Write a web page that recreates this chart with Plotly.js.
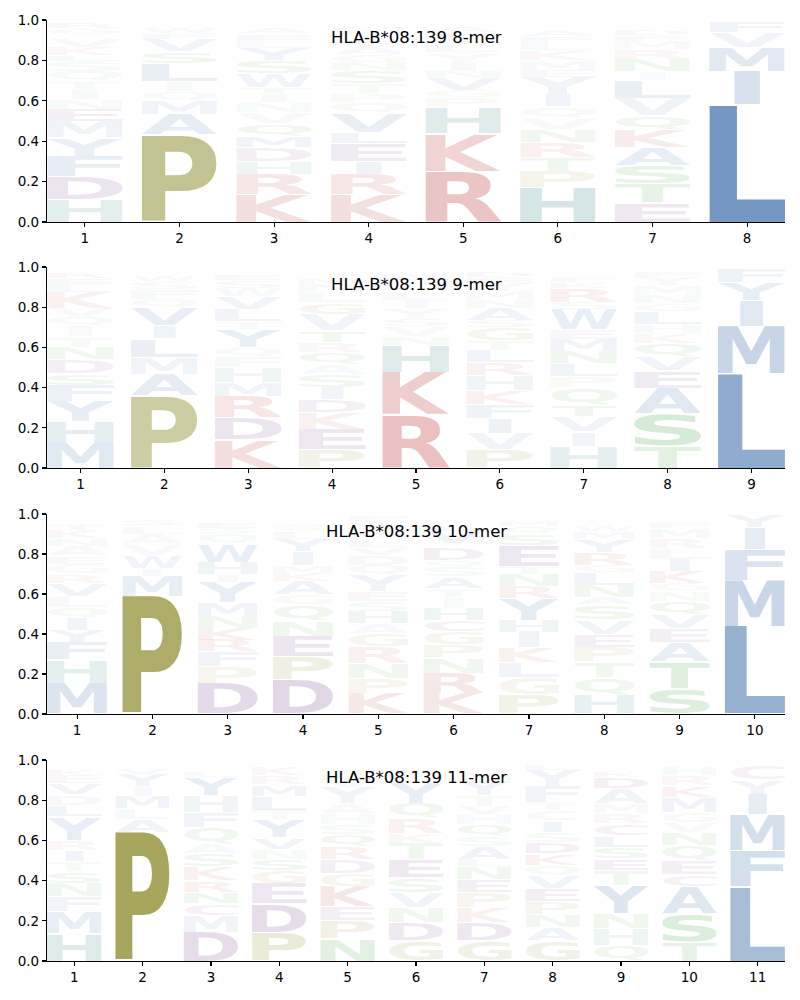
<!DOCTYPE html>
<html><head><meta charset="utf-8">
<script src="https://cdn.plot.ly/plotly-3.0.1.min.js"></script>
<style>body{margin:0;background:#fff}#chart{width:800px;height:1000px}</style>
</head><body><div id="chart"></div>
<script>
// ---------- DATA ----------
const titles = ["HLA-B*08:139 8-mer", "HLA-B*08:139 9-mer", "HLA-B*08:139 10-mer", "HLA-B*08:139 11-mer"];

const ticks8 = [1,2,3,4,5,6,7,8];
const letters8 = ["HDFYMENITQSLKVWGR","PAMQILSVFWE","KRHDMQVNITWSYLEAG","KRIELVQPTSNGAFYMW",
  "RKHPGVNIYLSEAM","HPTRNVQIYEMKLFAS","ETSAKQVLINRMFDY","LIMVF"];
const heights8 = [
  [.114,.112,.10,.09,.08,.06,.05,.05,.04,.05,.05,.03,.04,.04,.02,.03,.03],
  [.43,.10,.07,.045,.05,.09,.06,.06,.03,.03,.02],
  [.137,.10,.065,.067,.057,.06,.055,.05,.045,.03,.07,.065,.06,.04,.03,.03,.02],
  [.137,.10,.065,.085,.057,.095,.05,.045,.05,.065,.04,.04,.04,.03,.04,.03,.02],
  [.252,.185,.13,.05,.035,.06,.035,.04,.05,.04,.03,.03,.03,.02],
  [.17,.08,.07,.075,.065,.055,.055,.06,.085,.035,.05,.05,.04,.03,.03,.02],
  [.095,.095,.09,.09,.085,.07,.085,.09,.045,.06,.05,.04,.03,.03,.02],
  [.58,.165,.12,.075,.057]
];

const ticks9 = [1,2,3,4,5,6,7,8,9];
const letters9 = ["MHYFSDNTIQVKLERA","PAMLIVQFSWE","KDRMHFQYTLVWSEA","PEKDISAQRTVGLNMF",
  "RKHNVSYILQMEAF","PVIFKHRLTGSANMYED","HIVTQPLNMEWSRKFY","TSAEVQKHLGNMYF","LMIYF"];
const heights9 = [
  [.124,.108,.10,.08,.06,.07,.06,.05,.055,.045,.04,.08,.04,.03,.03,.02],
  [.357,.11,.085,.09,.065,.09,.04,.05,.04,.03,.02],
  [.14,.11,.105,.07,.075,.055,.045,.09,.04,.06,.065,.04,.04,.03,.02],
  [.09,.10,.085,.065,.06,.065,.05,.06,.05,.06,.08,.06,.05,.04,.03,.02],
  [.265,.21,.135,.045,.05,.04,.05,.04,.04,.03,.03,.03,.02,.01],
  [.09,.08,.075,.07,.07,.075,.065,.06,.05,.065,.035,.06,.045,.04,.04,.03,.03],
  [.108,.072,.075,.06,.085,.055,.065,.06,.06,.05,.10,.035,.07,.03,.03,.02],
  [.108,.16,.13,.085,.07,.065,.05,.045,.065,.04,.04,.05,.04,.03],
  [.47,.235,.13,.09,.07]
];

const ticks10 = [1,2,3,4,5,6,7,8,9,10];
const letters10 = ["MHFYIQLVRGEANKTS","PMIWVALSF","DPFRKNMYIHWQSEL","DPENQGAKMIYLST",
  "KPNRGAHSEYQDVLMTIF","KRNPGCHITASQDEVLF","PGLKIHYRNTESQMV","HQTPEVSANLGRYMWF",
  "STAEVQNGKILRMFY","LMFIY"];
const heights10 = [
  [.153,.117,.09,.06,.06,.055,.055,.065,.045,.05,.04,.05,.04,.04,.03,.02],
  [.59,.10,.04,.065,.055,.05,.04,.03,.02],
  [.153,.084,.073,.06,.06,.06,.07,.10,.04,.06,.09,.05,.03,.03,.02],
  [.17,.115,.105,.075,.08,.05,.07,.04,.04,.07,.06,.04,.03,.02],
  [.103,.075,.075,.085,.065,.05,.06,.05,.05,.08,.05,.05,.04,.04,.03,.02,.04,.03],
  [.103,.10,.077,.065,.065,.06,.06,.055,.04,.06,.05,.035,.06,.025,.06,.03,.02],
  [.095,.085,.075,.075,.08,.06,.11,.06,.06,.04,.10,.06,.04,.03,.02],
  [.095,.085,.08,.075,.065,.07,.075,.04,.06,.06,.04,.065,.065,.04,.03,.02],
  [.128,.132,.10,.07,.07,.065,.05,.04,.06,.06,.055,.05,.05,.03,.02],
  [.44,.23,.155,.11,.06]
];

const ticks11 = [1,2,3,4,5,6,7,8,9,10,11];
const letters11 = ["HMFNSTIRYLDVEKA","PALMIYVF","DMCNRKSAQFHYLE","PDEGSNVYTLMRKF",
  "NPEKGDRQSHAYVLT","GDNVSETKRQYLMI","GDKPENLASQHVTYMF","GANPEVQKDSICTFYL",
  "QHNYTESLCRMADKV","TSACEQNVGMKRHL","LFMIYC"];
const heights11 = [
  [.136,.108,.076,.066,.058,.05,.058,.05,.116,.058,.05,.058,.04,.03,.02],
  [.64,.065,.055,.06,.05,.06,.03,.02],
  [.144,.083,.058,.058,.058,.066,.066,.05,.083,.075,.083,.09,.03,.02],
  [.144,.14,.10,.065,.058,.05,.058,.09,.04,.075,.058,.045,.045,.02],
  [.11,.09,.07,.10,.065,.07,.065,.06,.05,.055,.05,.08,.04,.03,.02],
  [.10,.09,.075,.075,.075,.09,.08,.05,.075,.075,.10,.04,.03,.02],
  [.10,.09,.075,.075,.065,.065,.035,.065,.05,.06,.05,.04,.055,.075,.04,.02],
  [.10,.065,.065,.065,.065,.065,.05,.058,.058,.05,.058,.05,.04,.08,.08,.03],
  [.078,.082,.075,.14,.075,.058,.058,.058,.058,.05,.05,.075,.058,.03,.02],
  [.095,.14,.135,.06,.07,.075,.065,.05,.05,.075,.058,.05,.04,.02],
  [.37,.18,.18,.10,.07,.07]
];

// ---------- STYLE ----------
const classColor = {
  blue:[18,78,150], olive:[115,115,0], red:[176,20,20], teal:[14,108,108],
  purple:[85,14,108], green:[0,130,0], pink:[140,40,110]
};
const letterClass = {A:'blue',V:'blue',L:'blue',I:'blue',M:'blue',F:'blue',Y:'blue',W:'blue',
  P:'olive',G:'olive',K:'red',R:'red',H:'teal',D:'purple',E:'purple',
  S:'green',T:'green',N:'green',Q:'green',C:'pink'};
function letterColor(ch, h){
  const c = classColor[letterClass[ch]] || [120,120,120];
  const a = Math.min(1, Math.max(0.02, h));
  return `rgba(${c[0]},${c[1]},${c[2]},${a.toFixed(3)})`;
}

const panels = [
  {ticks:ticks8, letters:letters8, heights:heights8},
  {ticks:ticks9, letters:letters9, heights:heights9},
  {ticks:ticks10, letters:letters10, heights:heights10},
  {ticks:ticks11, letters:letters11, heights:heights11}
];
const domains = [[0.7853,1.0],[0.5239,0.7375],[0.2625,0.4750],[0,0.2136]];
const FONT = 'DejaVu Sans';

const traces = [];
const layout = {
  width:800, height:1000, barmode:'stack', bargap:0,
  margin:{l:47,r:15,t:20,b:39}, paper_bgcolor:'#fff', plot_bgcolor:'#fff',
  showlegend:false, annotations:[], font:{family:FONT, color:'#000'}
};

panels.forEach((p, k) => {
  const sfx = k === 0 ? '' : String(k+1);
  const maxN = Math.max(...p.letters.map(s => s.length));
  for (let j = 0; j < maxN; j++) {
    const x = [], y = [], text = [], cols = [];
    p.letters.forEach((s, i) => {
      if (j < s.length) {
        x.push(p.ticks[i]); y.push(p.heights[i][j]); text.push(s[j]);
        cols.push(letterColor(s[j], p.heights[i][j]));
      }
    });
    traces.push({
      type:'bar', x, y, text, width:0.8,
      textposition:'inside', insidetextanchor:'middle', textangle:0,
      textfont:{family:FONT, size:100, weight:'bold', color:cols},
      marker:{color:'rgba(0,0,0,0)', line:{width:0}},
      xaxis:'x'+sfx, yaxis:'y'+sfx, hoverinfo:'skip', showlegend:false, cliponaxis:false
    });
  }
  const axCommon = {showline:true, linecolor:'#000', linewidth:1.1, ticks:'outside', ticklen:4,
    tickwidth:1.1, tickcolor:'#000', showgrid:false, zeroline:false,
    tickfont:{family:FONT, size:13.5, color:'#000'}, fixedrange:true};
  layout['xaxis'+sfx] = Object.assign({}, axCommon, {domain:[0,1], anchor:'y'+sfx,
    range:[0.6, p.ticks.length+0.4], tickmode:'array', tickvals:p.ticks,
    ticktext:p.ticks.map(String)});
  layout['yaxis'+sfx] = Object.assign({}, axCommon, {domain:domains[k], anchor:'x'+sfx,
    range:[0,1], tickmode:'array', tickvals:[0,0.2,0.4,0.6,0.8,1.0],
    ticktext:['0.0','0.2','0.4','0.6','0.8','1.0']});
  layout.annotations.push({text:titles[k], xref:'x'+sfx+' domain', yref:'y'+sfx+' domain',
    x:0.5, y:0.912, xanchor:'center', yanchor:'middle', showarrow:false,
    font:{family:FONT, size:16.5, color:'#000'}});
});

// ---------- stretch bar letters to fill their bars (logo style) ----------
const cv = document.createElement('canvas').getContext('2d');
cv.font = `bold 100px "${FONT}"`;
const metricCache = {};
function inkMetrics(ch){
  if (!metricCache[ch]) {
    const m = cv.measureText(ch);
    metricCache[ch] = {l:m.actualBoundingBoxLeft, r:m.actualBoundingBoxRight,
      a:m.actualBoundingBoxAscent, d:m.actualBoundingBoxDescent};
  }
  return metricCache[ch];
}
const narrowGlyph = {I:0.34};
function stretch(gd){
  gd.querySelectorAll('.barlayer g.point').forEach(pt => {
    const path = pt.querySelector('path');
    const txt = pt.querySelector('text');
    if (!path || !txt) return;
    const b = path.getBBox();
    const ch = (txt.textContent || '').trim();
    if (!ch || b.height < 0.3 || b.width < 1) { txt.setAttribute('display','none'); return; }
    txt.querySelectorAll('tspan').forEach(t => { t.removeAttribute('dy'); t.removeAttribute('x'); t.removeAttribute('y'); });
    txt.removeAttribute('dy');
    txt.setAttribute('x', 0); txt.setAttribute('y', 0);
    txt.setAttribute('text-anchor', 'start');
    txt.style.textAnchor = 'start';
    txt.style.fontSize = '100px'; txt.style.fontWeight = 'bold';
    txt.style.fontFamily = `"${FONT}"`;
    const m = inkMetrics(ch);
    const pad = Math.min(0.5, b.height * 0.1);
    let bw = b.width, bx = b.x;
    if (narrowGlyph[ch]) { const w2 = bw * narrowGlyph[ch]; bx = bx + (bw - w2) / 2; bw = w2; }
    const by = b.y + pad, bh = Math.max(0.2, b.height - 2*pad);
    const sx = bw / (m.l + m.r), sy = bh / (m.a + m.d);
    const tx = bx + m.l * sx, ty = by + m.a * sy;
    txt.setAttribute('transform', `translate(${tx},${ty}) scale(${sx},${sy})`);
  });
}

Plotly.newPlot('chart', traces, layout, {staticPlot:true, displayModeBar:false})
  .then(gd => { (document.fonts ? document.fonts.ready : Promise.resolve()).then(() => stretch(gd)); });
</script>
</body></html>
